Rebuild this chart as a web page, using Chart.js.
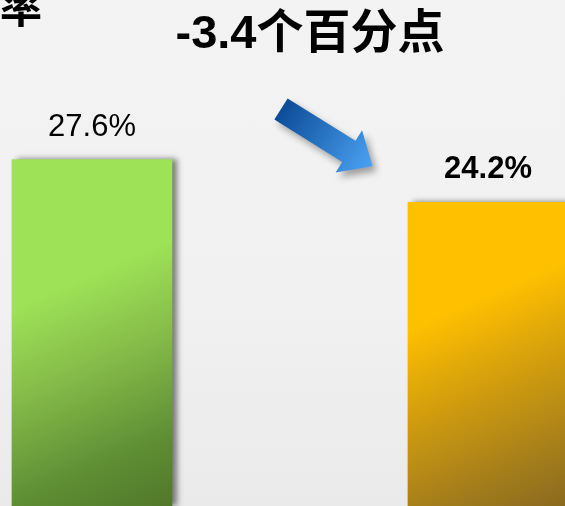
<!DOCTYPE html>
<html>
<head>
<meta charset="utf-8">
<script src="https://cdn.jsdelivr.net/npm/chart.js@4.4.1/dist/chart.umd.min.js"></script>
<style>
  html, body { margin:0; padding:0; }
  body {
    width:565px; height:506px; overflow:hidden; position:relative;
    background: linear-gradient(to bottom, #f3f3f3 0%, #f1f1f1 60%, #eaeaea 100%);
    font-family: "Liberation Sans", "Noto Sans CJK SC", sans-serif;
  }
  #wrap { position:absolute; left:0; top:0; width:565px; height:506px; }
  .title { position:absolute; font-weight:bold; color:#000; white-space:nowrap; }
  #main-title { left:0; top:2px; width:620px; text-align:center; font-size:47px; line-height:60px; }
  #side-title { left:0; top:-16px; font-size:42px; line-height:50px; }
</style>
</head>
<body>
<div id="wrap"><canvas id="barChart" width="565" height="506"></canvas></div>
<div class="title" id="side-title">率</div>
<div class="title" id="main-title">-3.4个百分点</div>
<script>
const categories = ['前期', '本期'];
const values = [27.6, 24.2];
const valueLabels = ['27.6%', '24.2%'];
const labelWeights = ['normal', 'bold'];
const barWidth = 160;

const barStops = [
    [[0, '#9ee257'], [0.34, '#85bc49'], [0.74, '#5e8d34'], [1, '#517829']],
    [[0, '#ffc000'], [0.28, '#dca50a'], [0.72, '#a8801a'], [1, '#89691f']]
];
const fadeStart = [150, 128];

// gradient per bar, built from the scales
function barFill(context){
    const chart = context.chart;
    const i = context.dataIndex;
    const fallback = barStops[i] ? barStops[i][0][1] : '#9ee257';
    const xs = chart.scales.x, ys = chart.scales.y;
    if(!xs || !ys || i === undefined) return fallback;
    const x = xs.getPixelForValue(i);
    const top = ys.getPixelForValue(values[i]);
    const base = ys.getPixelForValue(0);
    if(![x, top, base].every(Number.isFinite)) return fallback;
    const dx = 0.401, dy = 0.916;
    const sx = x - barWidth / 2, sy = top + fadeStart[i];
    const len = dx * barWidth + dy * (base - sy);
    const g = chart.ctx.createLinearGradient(sx, sy, sx + dx * len, sy + dy * len);
    barStops[i].forEach(s=>g.addColorStop(s[0], s[1]));
    return g;
}

const barShadow = {
    id:'barShadow',
    beforeDatasetsDraw(chart){
        const c = chart.ctx;
        c.save();
        c.shadowColor = 'rgba(0,0,0,0.5)';
        c.shadowOffsetX = 5;
        c.shadowOffsetY = 0;
        c.shadowBlur = 6;
    },
    afterDatasetsDraw(chart){
        chart.ctx.restore();
    }
};

const valueText = {
    id:'valueText',
    afterDatasetsDraw(chart){
        const c = chart.ctx;
        const meta = chart.getDatasetMeta(0);
        c.save();
        c.fillStyle = '#000';
        c.textAlign = 'center';
        c.textBaseline = 'alphabetic';
        meta.data.forEach((bar, i)=>{
            c.font = labelWeights[i] + ' 31px "Liberation Sans", Arial, sans-serif';
            c.fillText(valueLabels[i], bar.x, bar.y - 24);
        });
        c.restore();
    }
};

// blue arrow between the two bars
const downArrow = {
    id:'downArrow',
    afterDraw(chart){
        const meta = chart.getDatasetMeta(0);
        if(meta.data.length < 2) return;
        const midX = (meta.data[0].x + meta.data[1].x) / 2;
        const c = chart.ctx;
        c.save();
        c.translate(midX - 9, 109);
        c.rotate(32 * Math.PI / 180);
        const g = c.createLinearGradient(0, 0, 108, 0);
        g.addColorStop(0, '#0c4c98');
        g.addColorStop(1, '#4aa2f2');
        c.shadowColor = 'rgba(0,0,0,0.35)';
        c.shadowOffsetX = 4;
        c.shadowOffsetY = 5;
        c.shadowBlur = 7;
        c.fillStyle = g;
        c.beginPath();
        c.moveTo(0, -12.5);
        c.lineTo(80, -12.5);
        c.lineTo(80, -25);
        c.lineTo(108, 0);
        c.lineTo(80, 25);
        c.lineTo(80, 12.5);
        c.lineTo(0, 12.5);
        c.closePath();
        c.fill();
        c.restore();
    }
};

new Chart(document.getElementById('barChart').getContext('2d'), {
    type:'bar',
    data:{
        labels: categories,
        datasets:[{
            data: values,
            backgroundColor: barFill,
            borderWidth: 0,
            barThickness: barWidth,
            clip: false
        }]
    },
    options:{
        responsive:false,
        animation:false,
        layout:{padding:{left:92, right:77, top:4, bottom:0}},
        plugins:{legend:{display:false}, tooltip:{enabled:false}},
        scales:{
            x:{display:false, offset:false, grid:{display:false}},
            y:{display:false, min:0, max:40}
        }
    },
    plugins:[barShadow, valueText, downArrow]
});
</script>
</body>
</html>
